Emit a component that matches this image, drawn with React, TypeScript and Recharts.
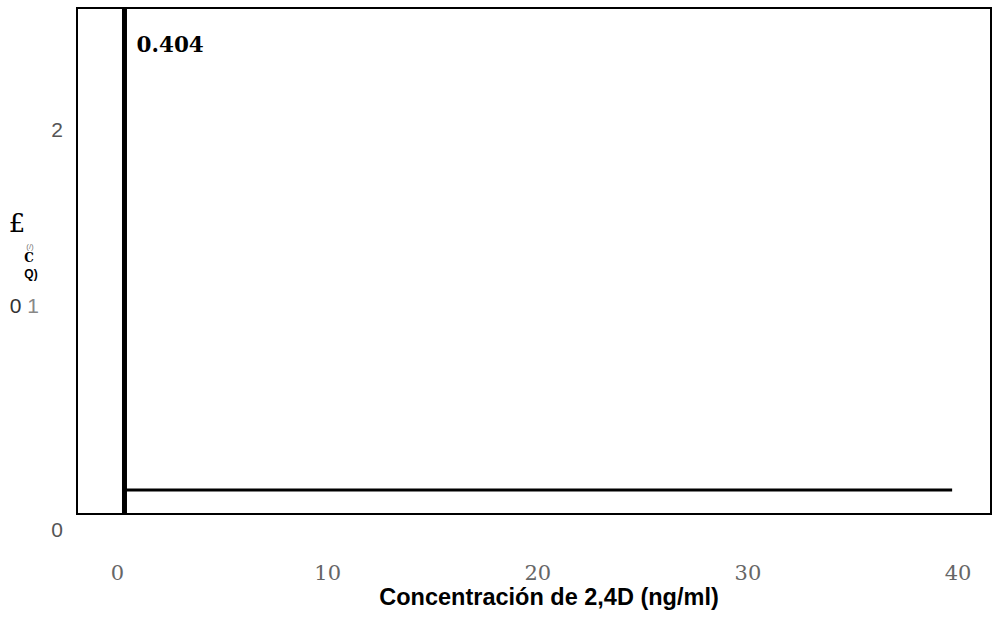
import { LineChart, Line, XAxis, YAxis, ReferenceArea } from 'recharts'

// values
const xTicks = [0, 10, 20, 30, 40]
const yTicks = [0, 1.12, 2]
const yTickLabels = ['0', '0 1', '2']
const stemSeries = [
  { x: 0.33, y: 2.61 },
  { x: 0.33, y: 0.075 },
]
const baselineSeries = [
  { x: 0.33, y: 0.195 },
  { x: 39.72, y: 0.195 },
]
const annotation = '0.404'
const xTitle = 'Concentración de 2,4D (ng/ml)'
const yTitleFragments = ['£', '(/)', 'C', 'Q)']

const xDomain = [-1.93, 41.57]
const yDomain = [0, 2.61]
const frameBottom = 0.075

const SANS = '"Liberation Sans", Arial, sans-serif'
const SERIF = '"DejaVu Serif", "Liberation Serif", serif'

const XTick = ({ x, y, payload }: any) => (
  <text x={x} y={y + 44} textAnchor="middle" dominantBaseline="central"
    fontFamily={SERIF} fontSize={21} fill="#666">
    {payload.value}
  </text>
)

const YTick = ({ x, y, payload }: any) => {
  const label = yTickLabels[yTicks.indexOf(payload.value)]
  if (label === '0 1') {
    return (
      <text x={x - 38} y={y} textAnchor="end" dominantBaseline="central"
        fontFamily={SANS} fontSize={21}>
        <tspan fill="#333">0 </tspan>
        <tspan fill="#888">1</tspan>
      </text>
    )
  }
  return (
    <text x={x - 14} y={y} textAnchor="end" dominantBaseline="central"
      fontFamily={SANS} fontSize={21} fill="#555">
      {label}
    </text>
  )
}

const YTitle = () => (
  <g>
    <text x={17} y={232} textAnchor="middle" fontFamily={SERIF} fontSize={26} fill="#000">
      {yTitleFragments[0]}
    </text>
    <text x={30} y={249} textAnchor="middle" fontFamily={SANS} fontSize={8} fill="#777">
      {yTitleFragments[1]}
    </text>
    <text x={29} y={262} textAnchor="middle" fontFamily={SERIF} fontSize={12} fontWeight="bold" fill="#000">
      {yTitleFragments[2]}
    </text>
    <text x={31} y={278} textAnchor="middle" fontFamily={SANS} fontSize={12} fontWeight="bold" fill="#000">
      {yTitleFragments[3]}
    </text>
  </g>
)

const XTitle = () => (
  <text x={549} y={605} textAnchor="middle" fontFamily={SANS} fontSize={23.5}
    fontWeight="bold" fill="#000">
    {xTitle}
  </text>
)

const renderAnnotation = (props: any) => {
  if (props.index !== 0) return null
  return (
    <text key="annot" x={props.x + 12} y={props.y + 44} fontFamily={SERIF} fontSize={21.5}
      fontWeight="bold" fill="#000">
      {annotation}
    </text>
  )
}

export default function App() {
  return (
    <div style={{ position: 'absolute', left: 0, top: 0, width: 997, height: 623, background: '#fff' }}>
      <LineChart width={997} height={623} margin={{ top: 8, right: 6, bottom: 0, left: 0 }}>
        <XAxis
          dataKey="x"
          type="number"
          domain={xDomain}
          ticks={xTicks}
          allowDecimals
          axisLine={false}
          tickLine={false}
          tickSize={0}
          tickMargin={0}
          height={94}
          tick={<XTick />}
          label={{ content: <XTitle /> }}
        />
        <YAxis
          type="number"
          domain={yDomain}
          ticks={yTicks}
          allowDataOverflow
          axisLine={false}
          tickLine={false}
          tickSize={0}
          tickMargin={0}
          width={77}
          tick={<YTick />}
          label={{ content: <YTitle /> }}
        />
        <ReferenceArea
          x1={xDomain[0]}
          x2={xDomain[1]}
          y1={frameBottom}
          y2={yDomain[1]}
          fill="none"
          stroke="#000"
          strokeWidth={2}
          fillOpacity={0}
        />
        <Line
          data={stemSeries}
          dataKey="y"
          stroke="#000"
          strokeWidth={5}
          dot={false}
          activeDot={false}
          isAnimationActive={false}
          label={renderAnnotation}
        />
        <Line
          data={baselineSeries}
          dataKey="y"
          stroke="#000"
          strokeWidth={3}
          dot={false}
          activeDot={false}
          isAnimationActive={false}
        />
      </LineChart>
    </div>
  )
}
